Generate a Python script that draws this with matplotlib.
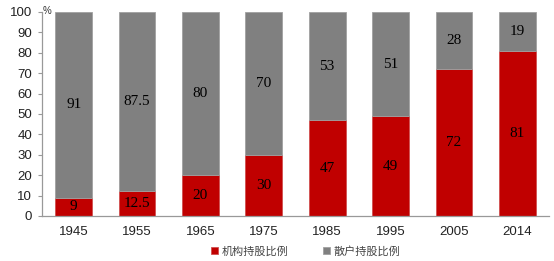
import matplotlib
matplotlib.use("Agg")
import matplotlib.pyplot as plt
import numpy as np

years = ["1945", "1955", "1965", "1975", "1985", "1995", "2005", "2014"]
inst = [9, 12.5, 20, 30, 47, 49, 72, 81]
retail = [91, 87.5, 80, 70, 53, 51, 28, 19]
inst_labels = ["9", "12.5", "20", "30", "47", "49", "72", "81"]
retail_labels = ["91", "87.5", "80", "70", "53", "51", "28", "19"]
yticks = [0, 10, 20, 30, 40, 50, 60, 70, 80, 90, 100]

plt.rcParams['font.family'] = ['Liberation Sans', 'DejaVu Sans']
fig = plt.figure(figsize=(5.54, 2.61), dpi=100)
ax = fig.add_axes([42/554, 1-216/261, 507/554, 204/261])

x = np.arange(len(years))
w = 0.58
red = "#C00000"
grey = "#808080"
ax.bar(x, inst, w, color=red, edgecolor="#d05050", linewidth=0.6, label="机构持股比例")
ax.bar(x, retail, w, bottom=inst, color=grey, edgecolor="#a0a0a0", linewidth=0.6, label="散户持股比例")

for i in range(len(years)):
    ax.text(x[i], inst[i]/2, inst_labels[i], ha="center", va="center",
            fontsize=11, family=["Liberation Serif"], color="black")
    ax.text(x[i], inst[i] + retail[i]/2, retail_labels[i], ha="center", va="center",
            fontsize=11, family=["Liberation Serif"], color="black")

ax.set_xlim(-0.5, len(years)-0.5)
ax.set_ylim(0, 100)
ax.set_yticks(yticks)
ax.set_xticks(x)
ax.set_xticklabels(years)
ax.tick_params(axis='y', labelsize=9.5, length=3, color="#999999", direction="out", pad=4,
               labelcolor="#222222")
ax.tick_params(axis='x', labelsize=9.5, length=0, pad=7, labelcolor="#222222")
for s in ["top", "right"]:
    ax.spines[s].set_visible(False)
for s in ["left", "bottom"]:
    ax.spines[s].set_color("#999999")
    ax.spines[s].set_linewidth(0.9)

ax.text(-0.42, 100.5, "%", fontsize=7, ha="center", va="center", color="#333333")

leg = fig.legend(loc="center", bbox_to_anchor=(306/554, 1-251/261), ncol=2, frameon=False,
                 prop={'family': ['Noto Sans CJK SC', 'DejaVu Sans'], 'size': 8},
                 handlelength=0.6, handleheight=0.6, handletextpad=0.35, columnspacing=3.1)
for t in leg.get_texts():
    t.set_color("#444444")

fig.savefig("out.png", dpi=100)
